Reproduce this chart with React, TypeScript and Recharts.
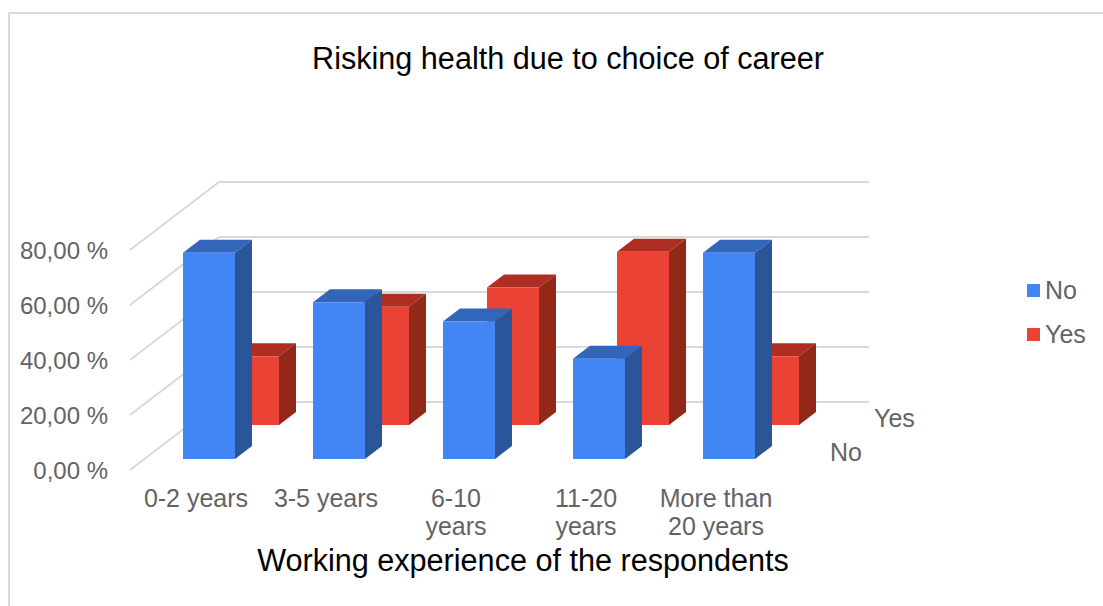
import { BarChart, Bar, XAxis, YAxis, CartesianGrid, Legend } from "recharts";

const categories = ["0-2 years", "3-5 years", "6-10 years", "11-20 years", "More than 20 years"];
const tickLines = [["0-2 years"], ["3-5 years"], ["6-10", "years"], ["11-20", "years"], ["More than", "20 years"]];
const noValues = [75, 57, 50, 36.5, 75];
const yesValues = [25, 43, 50, 63, 25];
const yTicks = [0, 20, 40, 60, 80];

const data = categories.map((name, i) => ({ name, No: noValues[i], Yes: yesValues[i] }));

const FONT = "'Liberation Sans', Arial, sans-serif";
const GREY = "#636363";
const GRID = "#d9d9d9";

// oblique projection of the chart floor
const WALL_DX = 89;
const WALL_DY = -68;
const SIDE_DX = 17;
const SIDE_DY = -13;

const makeBar = (dx: number, dy: number, front: string, top: string, side: string) => (props: any) => {
  const x = props.x + dx;
  const y = props.y + dy;
  const { width: w, height: h } = props;
  return (
    <g>
      <path d={`M${x} ${y}l${SIDE_DX} ${SIDE_DY}h${w}l${-SIDE_DX} ${-SIDE_DY}z`} fill={top} />
      <path d={`M${x + w} ${y}l${SIDE_DX} ${SIDE_DY}v${h}l${-SIDE_DX} ${-SIDE_DY}z`} fill={side} />
      <rect x={x} y={y} width={w} height={h} fill={front} />
    </g>
  );
};

const NoBar = makeBar(14, -11, "#4285f4", "#3366bb", "#2a5599");
const YesBar = makeBar(58, -45, "#ea4335", "#ae2e24", "#922818");

const gridLine = (props: any) => (
  <polyline
    key={props.y1}
    points={`${props.x1},${props.y1} ${props.x1 + WALL_DX},${props.y1 + WALL_DY} ${props.x2 + WALL_DX},${props.y1 + WALL_DY}`}
    fill="none"
    stroke={GRID}
    strokeWidth={2}
  />
);

const XTick = ({ x, y, payload, index }: any) => (
  <text x={x} y={y} fill={GREY} fontSize={25} fontFamily={FONT} textAnchor="middle">
    {(tickLines[payload.index ?? index] ?? [payload.value]).map((line, i) => (
      <tspan key={line} x={x + 1} y={y + 29 + i * 28}>
        {line}
      </tspan>
    ))}
  </text>
);

const legendOrder = ["No", "Yes"];

const LegendBox = ({ payload }: any) => (
  <div style={{ fontFamily: FONT, fontSize: 25, color: GREY }}>
    {legendOrder.map((key) => {
      const item = (payload ?? []).find((p: any) => p.value === key);
      return (
        <div key={key} style={{ display: "flex", alignItems: "center", height: 44 }}>
          <span style={{ width: 13, height: 13, background: item?.color, marginRight: 5 }} />
          {key}
        </div>
      );
    })}
  </div>
);

export default function App() {
  return (
    <div style={{ position: "absolute", left: 0, top: 0, width: 1103, height: 606, background: "#fff", overflow: "hidden" }}>
      <div
        style={{
          position: "absolute",
          left: 8,
          top: 12,
          width: 1095,
          height: 594,
          borderLeft: `2px solid ${GRID}`,
          borderTop: `2px solid ${GRID}`,
          boxSizing: "border-box",
        }}
      />
      <BarChart
        width={1103}
        height={606}
        data={data}
        margin={{ top: 250, right: 253, bottom: 0, left: 0 }}
        barSize={52}
        barGap={-52}
        style={{ position: "absolute", left: 0, top: 0 }}
      >
        <CartesianGrid vertical={false} horizontal={gridLine} />
        <XAxis dataKey="name" height={136} axisLine={false} tickLine={false} interval={0} tick={XTick} />
        <YAxis
          width={130}
          domain={[0, 80]}
          ticks={yTicks}
          axisLine={false}
          tickLine={false}
          tickSize={0}
          tickMargin={22}
          tick={{ fill: GREY, fontSize: 24, fontFamily: FONT }}
          tickFormatter={(v: number) => `${v.toFixed(2).replace(".", ",")} %`}
        />
        <Legend
          layout="vertical"
          align="right"
          verticalAlign="top"
          content={LegendBox}
          wrapperStyle={{ left: 1027, top: 268, width: 70 }}
        />
        <Bar dataKey="Yes" fill="#ea4335" shape={YesBar} isAnimationActive={false} />
        <Bar dataKey="No" fill="#4285f4" shape={NoBar} isAnimationActive={false} />
        <text x={568} y={69} textAnchor="middle" fontSize={30.6} fontFamily={FONT} fill="#000">
          Risking health due to choice of career
        </text>
        <text x={523} y={571} textAnchor="middle" fontSize={30.6} fontFamily={FONT} fill="#000">
          Working experience of the respondents
        </text>
        <text x={874} y={427} fontSize={25} fontFamily={FONT} fill={GREY}>
          Yes
        </text>
        <text x={830} y={461} fontSize={25} fontFamily={FONT} fill={GREY}>
          No
        </text>
      </BarChart>
    </div>
  );
}
